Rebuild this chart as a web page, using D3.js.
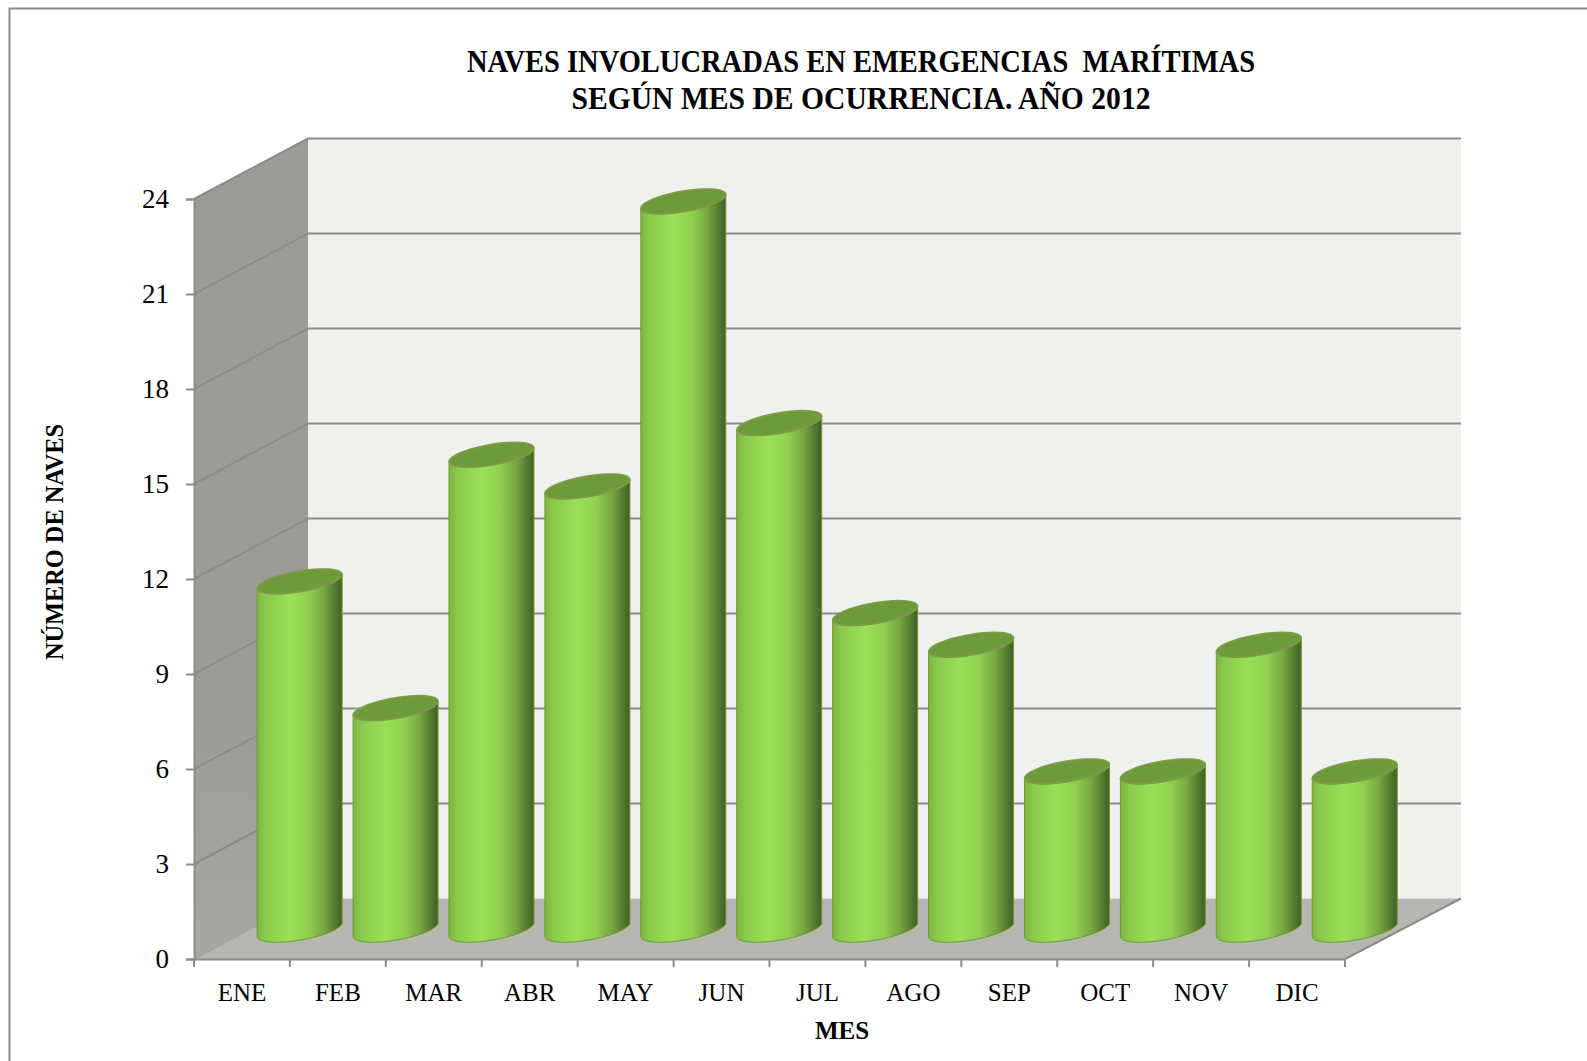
<!DOCTYPE html>
<html>
<head>
<meta charset="utf-8">
<script src="https://cdn.jsdelivr.net/npm/d3@7"></script>
<style>
  html, body { margin: 0; padding: 0; background: #fff; overflow: hidden; }
  text { font-family: "Liberation Serif", serif; fill: #000; }
</style>
</head>
<body>
<script>
const months = ["ENE", "FEB", "MAR", "ABR", "MAY", "JUN", "JUL", "AGO", "SEP", "OCT", "NOV", "DIC"];
const naves = [11, 7, 15, 14, 23, 16, 10, 9, 5, 5, 9, 5];
const yTicks = [0, 3, 6, 9, 12, 15, 18, 21, 24];
const titleLines = ["NAVES INVOLUCRADAS EN EMERGENCIAS\u00A0\u00A0MARÍTIMAS", "SEGÚN MES DE OCURRENCIA. AÑO 2012"];

const width = 1587, height = 1061;
const grey = "#8b8b8b";

// Depth of the 3D box
const depthX = 114, depthY = -60.5;

const xScale = d3.scaleBand().domain(months).range([194, 1345]);
const yScale = d3.scaleLinear().domain([0, 24]).range([959, 199]);

const svg = d3.select("body").append("svg")
  .attr("width", width)
  .attr("height", height)
  .style("display", "block");

// Outer frame, only top and left are visible
svg.append("path")
  .attr("d", `M${width},8.5 H9.5 V${height}`)
  .attr("fill", "none")
  .attr("stroke", grey)
  .attr("stroke-width", 2);

// Gradients
const defs = svg.append("defs");
const barGrad = defs.append("linearGradient").attr("id", "barGrad");
[[0, "#7fb544"], [0.1, "#8aca4b"], [0.38, "#9ae056"], [0.6, "#90d04e"], [0.78, "#78a942"], [0.92, "#55792e"], [1, "#415f24"]]
  .forEach(([o, c]) => barGrad.append("stop").attr("offset", o).attr("stop-color", c));
const wallGrad = defs.append("linearGradient").attr("id", "wallGrad").attr("x1", 0).attr("x2", 0).attr("y1", 0).attr("y2", 1);
[[0, "#9a9c95"], [0.7, "#9a9c95"], [1, "#a6a8a1"]]
  .forEach(([o, c]) => wallGrad.append("stop").attr("offset", o).attr("stop-color", c));

const x0 = xScale.range()[0], x1 = xScale.range()[1];
const yBottom = yScale(0), yTop = yScale(24);
const backRight = x1 + depthX + 2; // back wall runs a touch further than the front edge

// Walls and floor
svg.append("rect")
  .attr("x", x0 + depthX).attr("y", yTop + depthY)
  .attr("width", backRight - x0 - depthX).attr("height", yBottom - yTop)
  .attr("fill", "#eff2ec");
svg.append("path")
  .attr("d", `M${x0},${yBottom} V${yTop} L${x0 + depthX},${yTop + depthY} V${yBottom + depthY} Z`)
  .attr("fill", "url(#wallGrad)");
svg.append("path")
  .attr("d", `M${x0},${yBottom} H${x1} L${backRight},${yBottom + depthY} H${x0 + depthX} Z`)
  .attr("fill", "#b5b7b0");

// Gridlines, along the side wall then along the back wall
svg.append("g").selectAll("path")
  .data(yTicks.filter((d) => d > 0))
  .join("path")
  .attr("d", (d) => `M${x0},${yScale(d)} L${x0 + depthX},${yScale(d) + depthY} H${backRight}`)
  .attr("fill", "none")
  .attr("stroke", grey)
  .attr("stroke-width", 2);

// Floor edges
svg.append("path")
  .attr("d", `M${x0},${yBottom} L${x0 + depthX},${yBottom + depthY}`)
  .attr("stroke", "#a2a49d").attr("stroke-width", 1.5);
svg.append("path")
  .attr("d", `M${x1},${yBottom} L${backRight},${yBottom + depthY}`)
  .attr("stroke", grey).attr("stroke-width", 2);

// Cylinders: the base is a circle in the sheared floor plane
const rx = 42.5, ry = 12.5;
const shear = ry * depthX / -depthY;
const ax = Math.sqrt(rx * rx - shear * shear);
const edgeT = Math.atan2(shear, ax);
const ringPoint = (cx, cy, t) => [cx + ax * Math.cos(t) + shear * Math.sin(t), cy - ry * Math.sin(t)];
const arcPoints = (cx, cy, from, to) => d3.range(41).map((i) => ringPoint(cx, cy, from + (to - from) * i / 40));

const line = d3.line();
const bars = svg.append("g").selectAll("g")
  .data(months.map((m, i) => ({ month: m, value: naves[i] })))
  .join("g")
  .attr("transform", (d) => `translate(${xScale(d.month) + xScale.bandwidth() / 2 + depthX / 2 + 0.7},${depthY / 2 + 1})`);

bars.append("path")
  .attr("d", (d) => {
    const top = arcPoints(0, yScale(d.value), edgeT, edgeT - Math.PI);
    const bottom = arcPoints(0, yScale(0), edgeT - Math.PI, edgeT);
    return line(top.concat(bottom)) + "Z";
  })
  .attr("fill", "url(#barGrad)")
  .attr("stroke", "#6f9a38")
  .attr("stroke-width", 1);

bars.append("path")
  .attr("d", (d) => line(arcPoints(0, yScale(d.value), 0, Math.PI * 2)) + "Z")
  .attr("fill", "#6f9a3a")
  .attr("stroke", "#7f9c4a")
  .attr("stroke-width", 1.5);

// Y axis
const yAxis = svg.append("g")
  .attr("transform", `translate(${x0},0)`)
  .call(d3.axisLeft(yScale).tickValues(yTicks).tickSize(8).tickPadding(17));
yAxis.selectAll("text").style("font-family", '"Liberation Serif", serif').style("font-size", "27px").attr("fill", "#000");
yAxis.selectAll("line").attr("stroke", grey).attr("stroke-width", 2);
yAxis.select(".domain").attr("stroke", grey).attr("stroke-width", 2);

// X axis, labels at band centres and ticks at band edges
const xAxis = svg.append("g")
  .attr("transform", `translate(0,${yBottom})`)
  .call(d3.axisBottom(xScale).tickSize(0).tickPadding(24));
xAxis.selectAll("text").style("font-family", '"Liberation Serif", serif').style("font-size", "25px").attr("fill", "#000");
xAxis.select(".domain").attr("stroke", grey).attr("stroke-width", 2);
svg.append("g").selectAll("line")
  .data(months.map((m) => xScale(m)).concat([x1]))
  .join("line")
  .attr("x1", (d) => d).attr("x2", (d) => d)
  .attr("y1", yBottom).attr("y2", yBottom + 8)
  .attr("stroke", grey).attr("stroke-width", 2);

// Title and axis titles
svg.append("g").selectAll("text")
  .data(titleLines)
  .join("text")
  .attr("x", 861)
  .attr("y", (d, i) => 72 + i * 37)
  .attr("text-anchor", "middle")
  .style("font-size", "31px")
  .style("font-weight", "bold")
  .attr("textLength", (d, i) => [788, 579][i])
  .attr("lengthAdjust", "spacingAndGlyphs")
  .text((d) => d);

svg.append("text")
  .attr("x", 842).attr("y", 1039)
  .attr("text-anchor", "middle")
  .style("font-size", "25px").style("font-weight", "bold")
  .text("MES");

svg.append("text")
  .attr("transform", "translate(63,542) rotate(-90)")
  .attr("text-anchor", "middle")
  .style("font-size", "25px").style("font-weight", "bold")
  .attr("textLength", 236)
  .attr("lengthAdjust", "spacingAndGlyphs")
  .text("NÚMERO DE NAVES");
</script>
</body>
</html>
